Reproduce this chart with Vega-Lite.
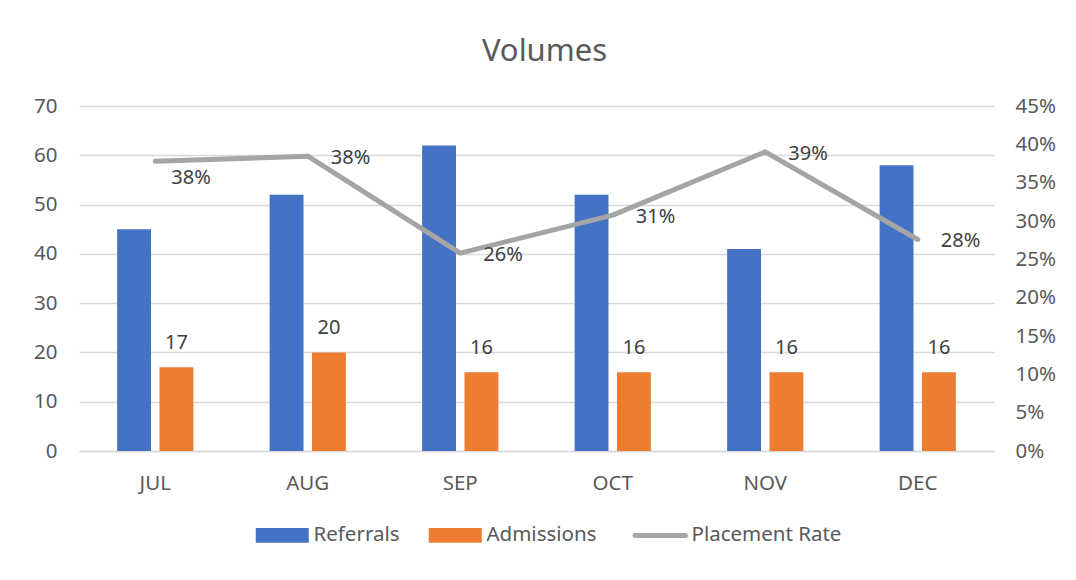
{
  "$schema": "https://vega.github.io/schema/vega-lite/v6.json",
  "autosize": {"type": "none"},
  "width": 915,
  "height": 345,
  "padding": {"left": 79, "top": 106, "right": 82, "bottom": 129},
  "background": "white",
  "title": {"text": "Volumes", "fontSize": 31, "font": "Noto Sans", "color": "#595959", "fontWeight": "normal", "anchor": "middle", "frame": "group", "dx": 8, "offset": 4, "baseline": "alphabetic"},
  "datasets": {
    "bars": [
      {"month": "JUL", "series": "Referrals", "value": 45},
      {"month": "JUL", "series": "Admissions", "value": 17},
      {"month": "AUG", "series": "Referrals", "value": 52},
      {"month": "AUG", "series": "Admissions", "value": 20},
      {"month": "SEP", "series": "Referrals", "value": 62},
      {"month": "SEP", "series": "Admissions", "value": 16},
      {"month": "OCT", "series": "Referrals", "value": 52},
      {"month": "OCT", "series": "Admissions", "value": 16},
      {"month": "NOV", "series": "Referrals", "value": 41},
      {"month": "NOV", "series": "Admissions", "value": 16},
      {"month": "DEC", "series": "Referrals", "value": 58},
      {"month": "DEC", "series": "Admissions", "value": 16}
    ],
    "rates": [
      {"month": "JUL", "rate": 0.3778},
      {"month": "AUG", "rate": 0.3846},
      {"month": "SEP", "rate": 0.2581},
      {"month": "OCT", "rate": 0.3077},
      {"month": "NOV", "rate": 0.3902},
      {"month": "DEC", "rate": 0.2759}
    ]
  },
  "layer": [
    {
      "data": {"name": "bars"},
      "layer": [
        {
          "mark": {"type": "bar"},
          "encoding": {
            "x": {"field": "month", "type": "nominal", "sort": ["JUL", "AUG", "SEP", "OCT", "NOV", "DEC"], "scale": {"paddingInner": 0.5, "paddingOuter": 0.25},
              "axis": {"title": null, "labelAngle": 0, "ticks": false, "domain": true, "domainColor": "#D9D9D9", "domainWidth": 1.5, "labelPadding": 22, "labelFontSize": 20.5, "labelFont": "Noto Sans", "labelColor": "#595959", "grid": false}},
            "xOffset": {"field": "series", "type": "nominal", "sort": ["Referrals", "Admissions"], "scale": {"domain": ["Referrals", "Admissions"], "paddingInner": 0.2, "paddingOuter": 0}},
            "y": {"field": "value", "type": "quantitative", "scale": {"domain": [0, 70], "nice": false},
              "axis": {"title": null, "values": [0, 10, 20, 30, 40, 50, 60, 70], "grid": true, "gridColor": "#D9D9D9", "gridWidth": 1.5, "domain": false, "ticks": false, "labelPadding": 22, "labelFontSize": 20.5, "labelFont": "Noto Sans", "labelColor": "#595959", "labelOverlap": false}},
            "color": {"field": "series", "type": "nominal", "scale": {"domain": ["Referrals", "Admissions", "Placement Rate"], "range": ["#4472C4", "#ED7D31", "#A5A5A5"]},
              "legend": {"orient": "none", "direction": "horizontal", "legendX": 193, "legendY": 419, "title": null, "padding": 0,
                "symbolType": "M-1,-0.28L1,-0.28L1,0.28L-1,0.28Z", "symbolSize": 2809, "symbolStrokeWidth": 0,
                "labelFontSize": 20.5, "labelFont": "Noto Sans", "labelColor": "#595959", "labelOffset": 21, "columnPadding": 28,
                "encode": {
                  "symbols": {"update": {
                    "shape": {"signal": "datum.value === 'Placement Rate' ? 'M-0.95,0L0.95,0' : 'M-1,-0.28L1,-0.28L1,0.28L-1,0.28Z'"},
                    "strokeWidth": {"signal": "datum.value === 'Placement Rate' ? 5 : 0"},
                    "stroke": {"signal": "scale('color', datum.value)"},
                    "strokeCap": {"value": "round"},
                    "opacity": {"value": 1}
                  }}
                }}}
          }
        },
        {
          "transform": [{"filter": "datum.series === 'Admissions'"}],
          "mark": {"type": "text", "baseline": "alphabetic", "dy": -18, "fontSize": 20, "font": "Noto Sans", "color": "#404040"},
          "encoding": {
            "x": {"field": "month", "type": "nominal", "sort": ["JUL", "AUG", "SEP", "OCT", "NOV", "DEC"]},
            "xOffset": {"field": "series", "type": "nominal", "sort": ["Referrals", "Admissions"]},
            "y": {"field": "value", "type": "quantitative",
              "axis": {"title": null, "values": [0, 10, 20, 30, 40, 50, 60, 70], "grid": true, "gridColor": "#D9D9D9", "gridWidth": 1.5, "domain": false, "ticks": false, "labelPadding": 22, "labelFontSize": 20.5, "labelFont": "Noto Sans", "labelColor": "#595959", "labelOverlap": false}},
            "text": {"field": "value", "type": "quantitative"}
          }
        }
      ]
    },
    {
      "data": {"name": "rates"},
      "layer": [
        {
          "mark": {"type": "line", "color": "#A5A5A5", "strokeWidth": 5, "strokeCap": "round", "strokeJoin": "round"},
          "encoding": {
            "x": {"field": "month", "type": "nominal", "sort": ["JUL", "AUG", "SEP", "OCT", "NOV", "DEC"]},
            "y": {"field": "rate", "type": "quantitative", "scale": {"domain": [0, 0.45], "nice": false},
              "axis": {"orient": "right", "title": null, "values": [0, 0.05, 0.1, 0.15, 0.2, 0.25, 0.3, 0.35, 0.4, 0.45], "format": ".0%", "grid": false, "domain": false, "ticks": false, "labelPadding": 21, "labelFontSize": 20.5, "labelFont": "Noto Sans", "labelColor": "#595959", "labelOverlap": false, "labelFlush": false}}
          }
        },
        {
          "transform": [{"filter": "datum.month !== 'JUL'"}],
          "mark": {"type": "text", "align": "left", "baseline": "middle", "dx": 23, "dy": 2, "fontSize": 20, "font": "Noto Sans", "color": "#404040"},
          "encoding": {
            "x": {"field": "month", "type": "nominal", "sort": ["JUL", "AUG", "SEP", "OCT", "NOV", "DEC"]},
            "y": {"field": "rate", "type": "quantitative",
              "axis": {"orient": "right", "title": null, "values": [0, 0.05, 0.1, 0.15, 0.2, 0.25, 0.3, 0.35, 0.4, 0.45], "format": ".0%", "grid": false, "domain": false, "ticks": false, "labelPadding": 21, "labelFontSize": 20.5, "labelFont": "Noto Sans", "labelColor": "#595959", "labelOverlap": false, "labelFlush": false}},
            "text": {"field": "rate", "type": "quantitative", "format": ".0%"}
          }
        },
        {
          "transform": [{"filter": "datum.month === 'JUL'"}],
          "mark": {"type": "text", "align": "left", "baseline": "middle", "dx": 16, "dy": 17, "fontSize": 20, "font": "Noto Sans", "color": "#404040"},
          "encoding": {
            "x": {"field": "month", "type": "nominal", "sort": ["JUL", "AUG", "SEP", "OCT", "NOV", "DEC"]},
            "y": {"field": "rate", "type": "quantitative",
              "axis": {"orient": "right", "title": null, "values": [0, 0.05, 0.1, 0.15, 0.2, 0.25, 0.3, 0.35, 0.4, 0.45], "format": ".0%", "grid": false, "domain": false, "ticks": false, "labelPadding": 21, "labelFontSize": 20.5, "labelFont": "Noto Sans", "labelColor": "#595959", "labelOverlap": false, "labelFlush": false}},
            "text": {"field": "rate", "type": "quantitative", "format": ".0%"}
          }
        }
      ]
    }
  ],
  "resolve": {"scale": {"y": "independent"}},
  "config": {"view": {"stroke": null}, "font": "Noto Sans"}
}
